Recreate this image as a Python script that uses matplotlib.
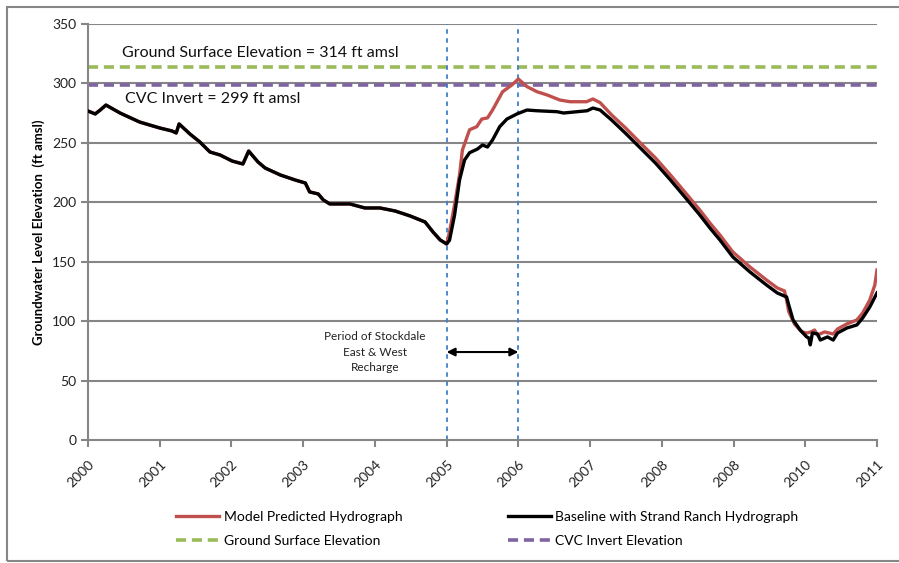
import matplotlib
matplotlib.use("Agg")
import matplotlib.pyplot as plt
from matplotlib.patches import Rectangle

plt.rcParams['font.family'] = ['Lato', 'DejaVu Sans']

# ---------------------------------------------------
# Hydrograph data (decimal year, ft amsl)
# ---------------------------------------------------
base_years = [2000.00, 2000.10, 2000.17, 2000.25, 2000.45, 2000.72, 2001.00, 2001.17,
              2001.23, 2001.27, 2001.42, 2001.56, 2001.70, 2001.84, 2002.01, 2002.16,
              2002.24, 2002.37, 2002.47, 2002.68, 2002.89, 2003.03, 2003.09, 2003.21,
              2003.28, 2003.37, 2003.65, 2003.86, 2004.07, 2004.28, 2004.49, 2004.70,
              2004.81, 2004.91, 2005.00,
              2005.04, 2005.11, 2005.18, 2005.25, 2005.32, 2005.43, 2005.50, 2005.57,
              2005.64, 2005.74, 2005.84, 2005.98, 2006.12, 2006.26, 2006.54, 2006.63,
              2006.82, 2006.96, 2007.04, 2007.14, 2007.30, 2007.49, 2007.70, 2007.91,
              2008.12, 2008.32, 2008.53, 2008.67, 2008.81, 2008.99, 2009.23, 2009.46,
              2009.61, 2009.74, 2009.77, 2009.83, 2009.93, 2010.02, 2010.05, 2010.07,
              2010.10, 2010.17, 2010.21, 2010.31, 2010.39, 2010.45, 2010.58, 2010.72,
              2010.80, 2010.90, 2011.00]
base_vals = [276.8, 274.3, 277.6, 281.8, 275.0, 267.5, 262.5, 260.0,
             258.3, 265.9, 257.5, 250.7, 242.3, 239.8, 234.7, 232.2,
             243.1, 233.9, 228.8, 223.0, 218.7, 216.2, 208.7, 207.0,
             202.0, 198.6, 198.6, 195.2, 195.2, 192.7, 188.5, 183.4,
             175.0, 168.3, 164.9,
             168.0, 189.0, 218.7, 235.6, 241.7, 244.8, 248.2, 246.5,
             252.4, 263.6, 270.0, 274.3, 277.6, 277.0, 276.2, 275.1,
             276.2, 277.0, 279.3, 277.6, 269.2, 258.3, 245.7, 233.1,
             218.8, 204.5, 189.3, 178.4, 168.3, 154.0, 141.3, 130.4,
             123.7, 120.3, 113.6, 101.0, 92.5, 86.7, 85.8, 80.0,
             90.0, 89.2, 84.1, 86.7, 84.1, 90.0, 94.2, 96.8,
             102.6, 111.9, 123.7]

model_years = base_years[:35] + [
    2005.04, 2005.11, 2005.18, 2005.22, 2005.32, 2005.42, 2005.49, 2005.57,
    2005.64, 2005.78, 2005.91, 2006.00, 2006.12, 2006.26, 2006.40, 2006.58,
    2006.72, 2006.95, 2007.04, 2007.14, 2007.30, 2007.49, 2007.70, 2007.91,
    2008.12, 2008.32, 2008.53, 2008.67, 2008.81, 2008.99, 2009.23, 2009.46,
    2009.61, 2009.71, 2009.74, 2009.77, 2009.85, 2009.95, 2010.02, 2010.08,
    2010.13, 2010.17, 2010.27, 2010.39, 2010.45, 2010.58, 2010.72, 2010.80,
    2010.90, 2010.97, 2011.00]
model_vals = base_vals[:35] + [
    175.0, 197.7, 223.0, 244.0, 261.0, 263.6, 270.0, 271.0,
    277.6, 293.0, 298.7, 303.7, 297.3, 293.0, 290.3, 286.0,
    284.6, 284.6, 286.9, 283.8, 273.5, 262.8, 250.0, 237.4,
    223.0, 208.7, 193.5, 182.6, 172.5, 158.2, 145.5, 134.6,
    127.9, 125.4, 117.8, 108.0, 97.6, 91.0, 90.0, 90.9,
    92.5, 88.3, 90.9, 89.2, 93.4, 97.6, 101.0, 106.8,
    117.8, 130.4, 143.0]

ground_surface = 314
cvc_invert = 299
recharge_start, recharge_end = 2005.0, 2006.0

tick_years = list(range(2000, 2012))
tick_labels = ['2000', '2001', '2002', '2003', '2004', '2005', '2006',
               '2007', '2008', '2008', '2010', '2011']

# ---------------------------------------------------
# Figure
# ---------------------------------------------------
fig = plt.figure(figsize=(8.99, 5.63), dpi=100)
ax = fig.add_axes([0.0979, 0.2185, 0.8776, 0.7389])

grid_col = '#868686'
for v in range(50, 351, 50):
    ax.axhline(v, color=grid_col, lw=1.5, zorder=1)

ax.plot([2000, 2011], [ground_surface] * 2, color='#9BBB59', lw=2.6,
        dashes=(2.8, 1.6), label='Ground Surface Elevation', zorder=2)
ax.plot([2000, 2011], [cvc_invert] * 2, color='#8064A2', lw=2.6,
        dashes=(2.8, 1.6), label='CVC Invert Elevation', zorder=2)

for xv in (recharge_start, recharge_end):
    ax.axvline(xv, color='#3F7FCC', lw=1.3, dashes=(2.5, 2.5), zorder=2)

ax.plot(model_years, model_vals, color='#C0504D', lw=2.4,
        label='Model Predicted Hydrograph', zorder=3)
ax.plot(base_years, base_vals, color='black', lw=2.4,
        label='Baseline with Strand Ranch Hydrograph', zorder=4)

# recharge period arrow and note
ax.annotate('', xy=(recharge_end, 74), xytext=(recharge_start, 74),
            arrowprops=dict(arrowstyle='<|-|>', color='black', lw=1.5,
                            mutation_scale=12, shrinkA=0, shrinkB=0), zorder=5)
ax.text(2004.0, 74, 'Period of Stockdale\nEast & West\nRecharge', ha='center',
        va='center', fontsize=8.5, linespacing=1.45, color='#222222')

ax.text(2000.47, 326, 'Ground Surface Elevation = 314 ft amsl', fontsize=11.5,
        va='center', color='#111111')
ax.text(2000.51, 287, 'CVC Invert = 299 ft amsl', fontsize=11.5,
        va='center', color='#111111')

ax.set_xlim(2000, 2011)
ax.set_ylim(0, 350)
ax.set_yticks(range(0, 351, 50))
ax.set_xticks(tick_years)
ax.set_xticklabels(tick_labels, rotation=45, ha='right', rotation_mode='anchor')
ax.tick_params(axis='both', colors=grid_col, labelcolor='#222222', labelsize=10,
               direction='out', length=5, width=1.5)
ax.tick_params(axis='x', pad=8)
for side in ('top', 'right'):
    ax.spines[side].set_visible(False)
for side in ('left', 'bottom'):
    ax.spines[side].set_color(grid_col)
    ax.spines[side].set_linewidth(1.5)

ax.set_ylabel('Groundwater Level Elevation  (ft amsl)', fontsize=9.5,
              fontweight='bold', labelpad=5)

# legend filled row by row: hydrographs on top, reference levels below
handles, labels = ax.get_legend_handles_labels()
order = [2, 0, 3, 1]
fig.legend([handles[i] for i in order], [labels[i] for i in order],
           loc='center', bbox_to_anchor=(0.542, 0.061), ncol=2, frameon=False,
           fontsize=10, handlelength=3.1, columnspacing=7.6, labelspacing=0.85,
           handletextpad=0.3)

# outer chart border
fig.patches.append(Rectangle((7 / 899, 2 / 563), 1.0, 554 / 563,
                             transform=fig.transFigure, fill=False,
                             edgecolor=grid_col, lw=1.5))

fig.savefig('out.png', dpi=100)
